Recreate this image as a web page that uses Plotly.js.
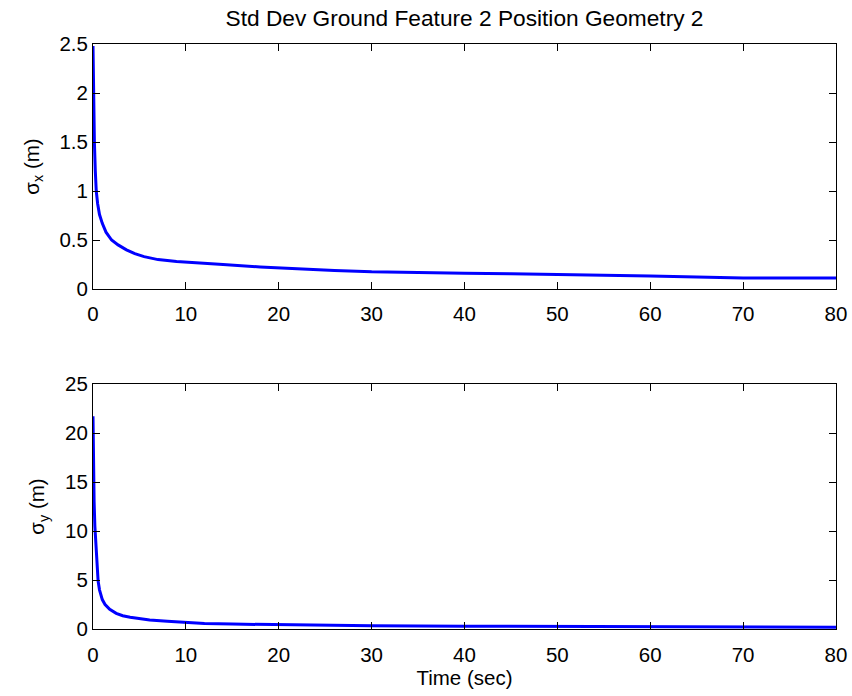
<!DOCTYPE html>
<html>
<head>
<meta charset="utf-8">
<script src="https://cdn.plot.ly/plotly-3.0.1.min.js"></script>
<style>html,body{margin:0;padding:0;background:#fff;}</style>
</head>
<body>
<div id="chart" style="width:852px;height:696px;"></div>
<script>
// Time samples (sec) and standard deviations (m)
const timeX = [0, 0.05, 0.1, 0.15, 0.25, 0.35, 0.5, 0.7, 1.0, 1.4, 2.0, 2.7, 3.6, 4.5, 5.5, 7, 9, 11, 14, 18, 22, 26, 30, 35, 40, 45, 50, 55, 60, 65, 70, 75, 80];
const sigmaX = [2.48, 2.0, 1.7, 1.5, 1.2, 1.0, 0.87, 0.76, 0.67, 0.58, 0.50, 0.45, 0.40, 0.36, 0.33, 0.30, 0.28, 0.27, 0.25, 0.225, 0.205, 0.19, 0.175, 0.165, 0.16, 0.155, 0.15, 0.143, 0.133, 0.122, 0.112, 0.112, 0.112];

const timeY = [0, 0.03, 0.07, 0.12, 0.2, 0.3, 0.4, 0.55, 0.7, 1.0, 1.3, 1.8, 2.5, 3.2, 4, 5, 6.1, 8, 10, 12, 15, 20, 25, 30, 40, 50, 60, 70, 80];
const sigmaY = [21.7, 18, 15, 13, 10.5, 8.5, 7.0, 4.9, 4.0, 3.0, 2.5, 2.0, 1.6, 1.35, 1.2, 1.05, 0.92, 0.78, 0.65, 0.57, 0.5, 0.42, 0.37, 0.33, 0.29, 0.26, 0.23, 0.2, 0.19];

const xTicks = [0, 10, 20, 30, 40, 50, 60, 70, 80];
const yTicksTop = [0, 0.5, 1, 1.5, 2, 2.5];
const yTicksBottom = [0, 5, 10, 15, 20, 25];

const titleText = 'Std Dev Ground Feature 2 Position Geometry 2';
const xLabel = 'Time (sec)';
const yLabelTop = '\u03c3<sub>x</sub> (m)';
const yLabelBottom = '\u03c3<sub>y</sub> (m)';

const FONT = 'Liberation Sans, Arial, Helvetica, sans-serif';

const traces = [
  {x: timeX, y: sigmaX, xaxis: 'x', yaxis: 'y', mode: 'lines', line: {color: '#0000ff', width: 3}, hoverinfo: 'skip'},
  {x: timeY, y: sigmaY, xaxis: 'x2', yaxis: 'y2', mode: 'lines', line: {color: '#0000ff', width: 3}, hoverinfo: 'skip'}
];

function axisBase() {
  return {
    showgrid: false, zeroline: false, showline: true, linecolor: '#000', linewidth: 1,
    mirror: 'ticks', ticks: 'inside', ticklen: 7, tickwidth: 1, tickcolor: '#000',
    tickfont: {family: FONT, size: 20.5, color: '#000'}, automargin: false
  };
}

const layout = {
  width: 852, height: 696,
  margin: {l: 93, r: 16, t: 44, b: 67},
  paper_bgcolor: '#fff', plot_bgcolor: '#fff',
  showlegend: false,
  title: {text: titleText, font: {family: FONT, size: 22.7, color: '#000'}, x: 0.5, xref: 'paper', y: 1 - 18/696, yref: 'container', yanchor: 'middle'},
  xaxis: Object.assign(axisBase(), {domain: [0, 1], anchor: 'y', range: [0, 80], tickvals: xTicks, ticktext: xTicks.map(String), ticklabelstandoff: 6}),
  yaxis: Object.assign(axisBase(), {domain: [0.5812, 1], anchor: 'x', range: [0, 2.5], tickvals: yTicksTop, ticktext: yTicksTop.map(String), ticklabelstandoff: 0,
    title: {text: yLabelTop, font: {family: FONT, size: 20.5, color: '#000'}, standoff: 14}}),
  xaxis2: Object.assign(axisBase(), {domain: [0, 1], anchor: 'y2', range: [0, 80], tickvals: xTicks, ticktext: xTicks.map(String), ticklabelstandoff: 7,
    title: {text: xLabel, font: {family: FONT, size: 20.5, color: '#000'}, standoff: 6}}),
  yaxis2: Object.assign(axisBase(), {domain: [0, 0.4188], anchor: 'x2', range: [0, 25], tickvals: yTicksBottom, ticktext: yTicksBottom.map(String), ticklabelstandoff: 0,
    title: {text: yLabelBottom, font: {family: FONT, size: 20.5, color: '#000'}, standoff: 14}})
};

Plotly.newPlot('chart', traces, layout, {displayModeBar: false, staticPlot: true});
</script>
</body>
</html>
